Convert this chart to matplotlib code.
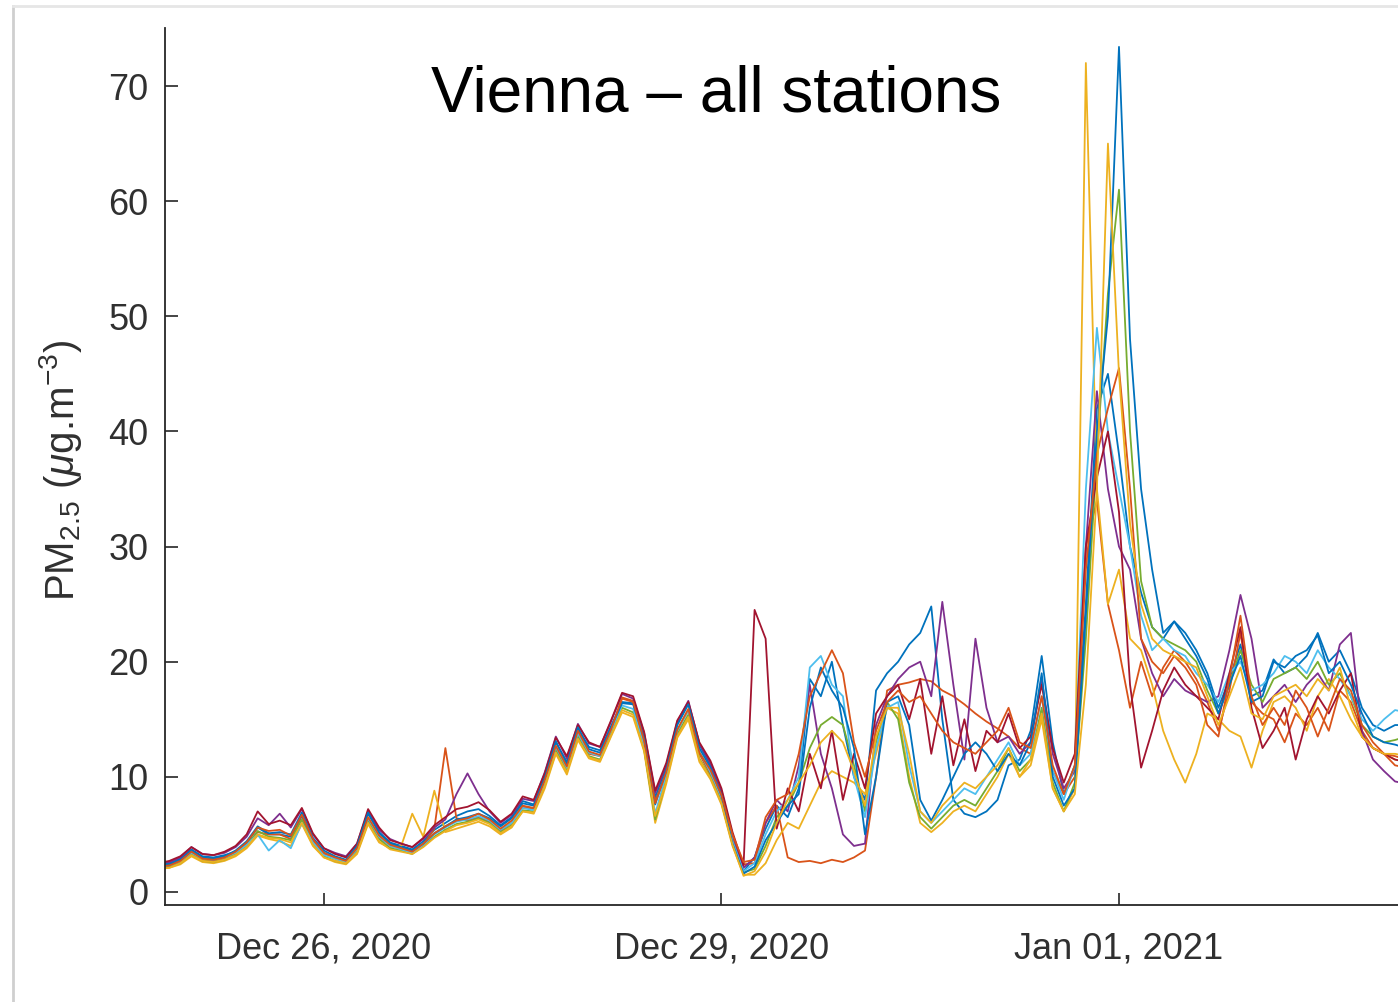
import numpy as np
import matplotlib
matplotlib.use("Agg")
import matplotlib.pyplot as plt
import matplotlib.dates as mdates
from matplotlib.lines import Line2D

plt.rcParams['font.family'] = ['Liberation Sans', 'DejaVu Sans']
plt.rcParams['mathtext.fontset'] = 'custom'
plt.rcParams['mathtext.rm'] = 'Liberation Sans'
plt.rcParams['mathtext.it'] = 'Liberation Sans:italic'
plt.rcParams['mathtext.sf'] = 'Liberation Sans'

# ---- data: PM2.5 at 2-hour steps from 2020-12-24 18:00 ----
start_time = '2020-12-24T18:00'
step_hours = 2

station_1 = [2.4, 2.5, 2.9, 3.7, 3.1, 3.0, 3.2, 3.5, 4.2, 5.6, 5.0, 5.0, 4.8, 6.6, 4.5, 3.4, 3.0, 2.7, 4.0, 6.8,
             5.2, 4.3, 4.0, 3.7, 4.4, 5.4, 6.0, 6.6, 7.0, 7.2, 6.6, 5.8, 6.5, 7.9, 7.6, 10.0, 13.0, 11.3, 14.2, 12.6,
             12.3, 14.4, 16.5, 16.4, 13.4, 8.2, 10.9, 14.6, 16.4, 12.8, 11.0, 8.6, 4.6, 1.8,
             3.0, 5.5, 7.5, 6.5, 9.0, 18.5, 17.0, 20.0, 14.5, 10.0, 8.0, 17.5, 19.0, 20.0, 21.5, 22.5, 24.8, 15.0,
             8.0, 6.8, 6.5, 7.0, 8.0, 11.0, 11.5, 14.0, 20.5, 13.0, 8.5, 11.0, 25.0, 42.0, 45.0,
             38.0, 30.0, 26.0, 23.0, 22.0, 23.5, 22.5, 21.0, 19.0, 16.0, 18.5, 21.5, 17.0, 17.5, 20.2, 19.0, 19.5,
             20.5, 22.5, 20.0, 21.0, 19.0, 16.0, 14.5, 14.0, 14.5, 14.5]
station_2 = [2.1, 2.2, 2.6, 3.3, 2.8, 2.7, 2.9, 3.3, 4.0, 5.2, 5.0, 5.0, 4.6, 6.3, 4.4, 3.3, 2.9, 2.6, 3.6, 6.2,
             4.7, 4.0, 3.7, 3.5, 4.1, 5.5, 12.5, 6.4, 6.2, 6.5, 6.1, 5.3, 6.0, 7.4, 7.2, 9.5, 12.5, 10.8, 13.8, 12.0,
             11.8, 14.0, 16.9, 16.6, 13.2, 7.9, 10.3, 14.0, 15.8, 12.0, 10.2, 8.0, 4.8, 2.4,
             2.5, 6.0, 7.5, 3.0, 2.6, 2.7, 2.5, 2.8, 2.6, 3.0, 3.6, 10.0, 17.5, 18.0, 18.2, 18.5, 18.3, 17.5,
             17.0, 16.3, 15.5, 14.8, 14.2, 13.5, 12.5, 12.0, 15.5, 10.5, 8.5, 10.0, 30.0, 34.0, 25.0,
             21.0, 16.0, 20.0, 17.0, 19.5, 21.0, 20.0, 18.5, 16.5, 14.0, 17.5, 22.5, 16.5, 15.5, 15.0, 13.0, 15.5,
             14.5, 16.0, 14.0, 17.5, 16.5, 14.0, 12.5, 12.0, 11.8, 11.5]
station_3 = [2.0, 2.1, 2.4, 3.1, 2.6, 2.5, 2.7, 3.1, 3.8, 4.9, 4.6, 4.4, 4.0, 5.9, 4.0, 3.0, 2.6, 2.4, 3.3, 5.9,
             4.3, 3.8, 4.0, 6.8, 4.8, 8.8, 5.2, 5.5, 5.8, 6.1, 5.7, 5.0, 5.6, 7.0, 6.8, 9.0, 12.0, 10.2, 13.2, 11.6,
             11.3, 13.5, 15.6, 15.2, 12.2, 6.0, 9.4, 13.4, 15.0, 11.3, 9.8, 7.6, 4.0, 1.5,
             1.5, 2.5, 4.5, 6.0, 5.5, 7.5, 9.5, 10.5, 10.0, 9.5, 8.5, 12.0, 16.0, 15.5, 10.0, 6.0, 5.2, 6.0,
             7.0, 7.5, 7.0, 8.5, 10.0, 12.0, 10.0, 11.0, 15.0, 9.0, 7.0, 9.0, 72.0, 35.0, 25.0,
             28.0, 22.0, 21.0, 18.0, 14.0, 11.5, 9.5, 12.0, 15.5, 15.0, 14.0, 13.5, 10.8, 14.0, 16.5, 17.0, 16.0,
             14.0, 17.0, 18.5, 17.0, 15.0, 13.5, 12.5, 12.0, 11.5, 11.3]
station_4 = [2.5, 2.6, 3.0, 3.9, 3.3, 3.2, 3.4, 3.9, 4.8, 6.4, 5.8, 6.8, 5.6, 7.2, 5.0, 3.8, 3.4, 3.1, 4.2, 7.0,
             5.4, 4.6, 4.2, 3.9, 4.6, 5.6, 6.3, 8.5, 10.3, 8.5, 7.0, 6.0, 6.7, 8.1, 7.9, 10.4, 13.5, 11.6, 14.6, 12.9,
             12.6, 14.8, 17.2, 16.8, 13.8, 8.6, 11.0, 14.8, 16.6, 12.9, 11.2, 8.8, 5.0, 2.1,
             3.0, 6.0, 8.0, 7.0, 11.0, 18.0, 12.0, 9.0, 5.0, 4.0, 4.2, 14.5, 17.0, 18.5, 19.5, 20.0, 17.0, 25.2,
             18.0, 11.5, 22.0, 16.0, 13.0, 13.5, 12.0, 13.0, 18.5, 12.0, 9.0, 10.5, 30.0, 43.5, 35.0,
             30.0, 28.0, 22.0, 19.0, 17.0, 18.5, 17.5, 17.0, 16.5, 17.0, 21.0, 25.8, 22.0, 16.0, 17.0, 18.0, 16.5,
             18.0, 19.0, 17.5, 21.5, 22.5, 14.0, 11.5, 10.5, 9.6, 9.4]
station_5 = [2.1, 2.2, 2.5, 3.3, 2.7, 2.6, 2.8, 3.3, 4.0, 5.3, 4.8, 4.7, 4.5, 6.3, 4.2, 3.1, 2.7, 2.5, 3.5, 6.1,
             4.6, 3.8, 3.6, 3.3, 4.0, 4.8, 5.4, 5.9, 6.1, 6.4, 6.0, 5.2, 5.8, 7.1, 7.0, 9.3, 12.3, 10.5, 13.5, 11.8,
             11.5, 13.8, 16.0, 15.6, 12.4, 6.3, 9.8, 13.7, 15.4, 11.6, 10.0, 7.8, 4.2, 1.7,
             2.0, 4.0, 6.5, 7.5, 9.5, 12.5, 14.5, 15.2, 14.5, 11.0, 7.0, 13.0, 16.5, 15.0, 9.5, 6.5, 5.5, 6.5,
             7.5, 8.0, 7.5, 9.0, 10.5, 12.5, 10.5, 11.5, 16.0, 9.5, 7.0, 9.5, 22.0, 38.0, 52.0,
             61.0, 40.0, 27.0, 23.0, 22.0, 21.5, 21.0, 20.0, 17.5, 15.5, 18.0, 21.0, 18.0, 16.5, 18.5, 19.0, 19.5,
             18.5, 20.0, 18.0, 19.0, 17.0, 14.5, 13.5, 13.0, 13.2, 13.5]
station_6 = [2.2, 2.3, 2.7, 3.4, 2.9, 2.8, 3.0, 3.4, 4.1, 5.0, 3.6, 4.5, 3.8, 6.0, 4.3, 3.2, 2.9, 2.6, 3.7, 6.4,
             4.8, 4.0, 3.7, 3.4, 4.1, 5.0, 5.6, 6.1, 6.3, 6.6, 6.2, 5.4, 6.0, 7.3, 7.1, 9.6, 12.6, 10.8, 13.8, 12.1,
             11.8, 14.0, 16.2, 15.9, 12.8, 6.8, 10.2, 14.0, 15.8, 12.2, 10.4, 8.2, 4.4, 1.8,
             2.5, 5.0, 7.0, 8.0, 10.0, 19.5, 20.5, 18.0, 17.0, 10.0, 6.5, 12.5, 16.0, 16.5, 11.0, 7.0, 6.0, 7.0,
             8.0, 9.0, 8.5, 10.0, 11.5, 13.0, 11.0, 12.0, 17.0, 10.5, 8.0, 11.0, 35.0, 49.0, 40.0,
             35.0, 30.0, 24.0, 21.0, 22.0, 21.0, 20.5, 19.0, 18.0, 16.5, 19.0, 20.0, 17.5, 18.0, 19.0, 20.5, 20.0,
             19.0, 21.0, 19.5, 18.5, 17.0, 15.0, 14.0, 15.0, 15.8, 15.6]
station_7 = [2.5, 2.7, 3.1, 3.9, 3.3, 3.2, 3.5, 4.0, 5.0, 7.0, 5.9, 6.2, 5.8, 7.3, 5.1, 3.8, 3.3, 3.0, 4.2, 7.2,
             5.6, 4.5, 4.2, 3.9, 4.7, 5.8, 6.5, 7.2, 7.4, 7.8, 7.1, 6.1, 6.8, 8.3, 8.0, 10.3, 13.4, 11.8, 14.5, 13.0,
             12.6, 14.9, 17.3, 17.0, 13.9, 8.8, 11.2, 14.9, 16.5, 13.0, 11.4, 9.0, 5.2, 2.3,
             24.5, 22.0, 5.5, 9.0, 7.0, 12.0, 9.0, 14.0, 8.0, 12.0, 9.0, 15.5, 17.0, 18.0, 15.0, 18.5, 12.0, 17.0,
             11.0, 15.0, 10.5, 14.0, 13.0, 15.5, 12.5, 13.5, 18.0, 12.5, 9.5, 12.0, 30.0, 36.0, 40.0,
             33.0, 18.0, 10.8, 14.0, 17.5, 19.5, 18.0, 17.0, 16.0, 15.0, 19.0, 23.0, 16.0, 12.5, 14.0, 16.0, 11.5,
             15.0, 17.0, 15.5, 17.5, 19.0, 13.5, 12.5, 12.0, 11.5, 11.3]
station_8 = [2.3, 2.4, 2.8, 3.6, 3.0, 2.9, 3.1, 3.6, 4.4, 5.7, 5.1, 5.2, 5.0, 6.9, 4.7, 3.6, 3.1, 2.8, 4.0, 6.9,
             5.1, 4.2, 3.9, 3.6, 4.2, 5.1, 5.7, 6.3, 6.5, 6.8, 6.4, 5.7, 6.4, 7.7, 7.5, 9.9, 13.1, 11.1, 14.3, 12.4,
             12.1, 14.3, 16.4, 16.3, 13.3, 7.6, 10.6, 14.5, 16.3, 12.5, 10.8, 8.4, 4.2, 1.6,
             2.2, 4.5, 6.0, 7.5, 8.5, 16.0, 19.5, 17.5, 16.0, 12.5, 5.0, 10.0, 16.5, 17.0, 14.5, 8.0, 6.2, 8.0,
             10.0, 12.0, 13.0, 12.0, 10.5, 12.0, 11.0, 13.0, 19.0, 10.0, 7.5, 9.0, 24.0, 40.0, 50.0,
             73.4, 48.0, 35.0, 28.0, 22.5, 23.5, 22.0, 20.5, 18.5, 15.5, 18.0, 20.5, 16.5, 17.0, 20.0, 19.5, 20.5,
             21.0, 22.3, 19.0, 20.0, 18.0, 15.5, 13.5, 13.0, 12.8, 12.5]
station_9 = [2.2, 2.3, 2.7, 3.5, 2.9, 2.8, 3.0, 3.5, 4.3, 5.6, 5.3, 5.4, 4.9, 6.7, 4.6, 3.4, 3.0, 2.7, 3.8, 6.5,
             4.9, 4.1, 3.8, 3.5, 4.2, 5.1, 5.7, 6.2, 6.4, 6.8, 6.3, 5.5, 6.2, 7.5, 7.3, 9.7, 12.7, 10.9, 14.0, 12.2,
             11.9, 14.1, 16.8, 16.5, 13.1, 7.7, 10.4, 14.1, 15.9, 12.1, 10.6, 8.4, 5.0, 2.6,
             2.8, 6.5, 8.0, 8.5, 12.0, 17.0, 19.0, 21.0, 19.0, 13.0, 10.0, 14.0, 16.5, 17.5, 16.5, 17.0, 15.5, 14.0,
             13.0, 12.5, 12.0, 13.0, 14.0, 16.0, 13.0, 12.5, 17.0, 11.0, 8.5, 11.0, 28.0, 38.0, 42.0,
             45.5, 35.0, 22.0, 20.0, 19.0, 20.5, 19.5, 18.0, 14.5, 13.5, 18.5, 24.0, 17.0, 14.5, 16.0, 14.5, 17.5,
             16.0, 13.5, 16.0, 18.5, 17.5, 14.5, 13.0, 12.0, 11.0, 10.8]
station_10 = [2.0, 2.1, 2.5, 3.2, 2.7, 2.6, 2.8, 3.2, 3.9, 5.0, 4.7, 4.6, 4.3, 6.0, 4.1, 3.0, 2.7, 2.5, 3.4, 6.0,
              4.4, 3.7, 3.5, 3.3, 3.9, 4.7, 5.3, 5.8, 6.0, 6.3, 5.9, 5.1, 5.7, 7.0, 6.9, 9.2, 12.1, 10.4, 13.3, 11.7,
              11.4, 13.6, 15.8, 15.4, 12.3, 6.6, 9.6, 13.5, 15.2, 11.5, 9.9, 7.7, 4.1, 1.4,
              1.8, 3.5, 6.0, 8.0, 9.5, 11.0, 13.0, 14.0, 13.0, 10.5, 7.5, 13.5, 16.0, 16.0, 12.0, 7.0, 6.0, 7.5,
              8.5, 9.5, 9.0, 10.0, 11.0, 12.5, 10.0, 11.5, 15.5, 9.0, 7.0, 8.5, 18.0, 35.0, 65.0,
              45.0, 32.0, 25.0, 22.0, 21.0, 20.5, 20.0, 19.5, 17.0, 14.5, 17.0, 19.5, 15.5, 15.0, 17.0, 17.5, 18.0,
              17.0, 18.5, 17.5, 19.5, 16.0, 13.5, 12.5, 12.0, 12.0, 11.8]

stations = [station_1, station_2, station_3, station_4, station_5,
            station_6, station_7, station_8, station_9, station_10]

tick_dates = ['2020-12-26', '2020-12-29', '2021-01-01']
y_ticks = [0, 10, 20, 30, 40, 50, 60, 70]
title_text = 'Vienna – all stations'
ylabel_text = 'PM$_{2.5}$ ($\\mu$g.m$^{-3}$)'

# MATLAB default colour order
colors = ['#0072BD', '#D95319', '#EDB120', '#7E2F8E', '#77AC30', '#4DBEEE', '#A2142F']

# ---- figure ----
W, H = 1398, 1002
fig = plt.figure(figsize=(W / 100, H / 100), dpi=100)
fig.patch.set_facecolor('white')

ax_left, ax_right, ax_top, ax_bottom = 165, 1398, 28, 905
ax = fig.add_axes([ax_left / W, 1 - ax_bottom / H, (ax_right - ax_left) / W, (ax_bottom - ax_top) / H])

n = len(station_1)
times = np.datetime64(start_time) + np.arange(n) * np.timedelta64(step_hours, 'h')
for i, s in enumerate(stations):
    ax.plot(times, s, color=colors[i % len(colors)], lw=1.3, solid_joinstyle='round')

day0 = np.datetime64('2020-12-26T00:00')
ax.set_xlim(day0 - np.timedelta64(int(1.2 * 24 * 60), 'm'), day0 + np.timedelta64(int(8.106 * 24 * 60), 'm'))
ax.set_ylim(-1.13, 75.04)

ax.set_xticks([np.datetime64(d) for d in tick_dates])
ax.xaxis.set_major_formatter(mdates.DateFormatter('%b %d, %Y'))
ax.set_yticks(y_ticks)

axcol = '#262626'
for side in ['top', 'right']:
    ax.spines[side].set_visible(False)
for side in ['left', 'bottom']:
    ax.spines[side].set_color(axcol)
    ax.spines[side].set_linewidth(1.3)
ax.tick_params(direction='in', length=9, width=1.2, color=axcol, labelcolor='#303030', labelsize=26)
ax.tick_params(axis='x', pad=19)
ax.tick_params(axis='y', pad=12)

ax.set_ylabel(ylabel_text, fontsize=29, color='#303030')
ax.yaxis.set_label_coords(-0.066, 0.496)

fig.text(716 / W, 1 - 95 / H, title_text, fontsize=46, color='black', ha='center', va='center')

# slide frame
fig.add_artist(Line2D([13 / W, 13 / W], [0, 1 - 6 / H], transform=fig.transFigure, color='#cfcfcf', lw=2))
fig.add_artist(Line2D([13 / W, 1], [1 - 6 / H, 1 - 6 / H], transform=fig.transFigure, color='#e6e6e6', lw=2))

fig.savefig('out.png', dpi=100)
